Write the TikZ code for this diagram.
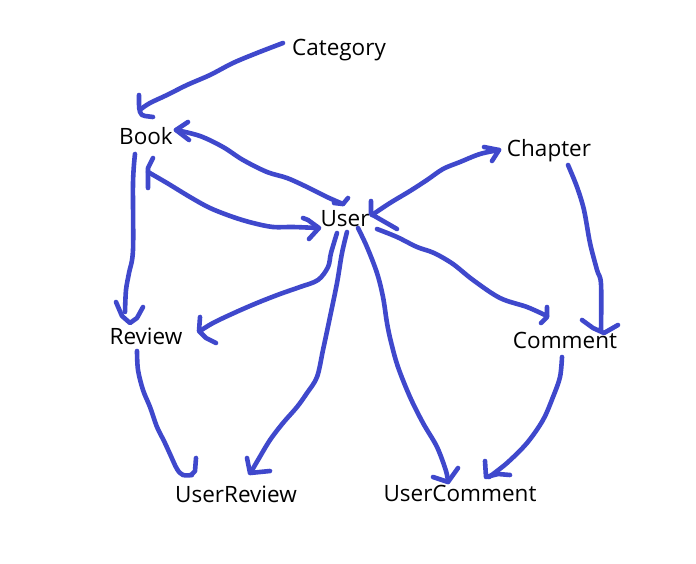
\documentclass[tikz,border=0pt]{standalone}
\usepackage{fontspec}
\setmainfont{Open Sans}
\definecolor{ink}{HTML}{3F48CC}
\begin{document}
\begin{tikzpicture}[x=1pt,y=-1pt,
  lbl/.style={anchor=base,inner sep=0pt,font=\fontsize{22.5}{26}\selectfont},
  ink/.style={draw=ink,line width=4.6pt,line cap=round,line join=round},
  sk/.style={ink,smooth,tension=0.55}]
\useasboundingbox (0,0) rectangle (696,564);
\fill[white] (0,0) rectangle (696,564);
% labels
\node[lbl] (Category) at (339,56) {Category};
\node[lbl] (Book) at (146,145) {Book};
\node[lbl] (Chapter) at (549,157) {Chapter};
\node[lbl] (User) at (345,227) {User};
\node[lbl] (Review) at (146,344) {Review};
\node[lbl] (Comment) at (565,348) {Comment};
\node[lbl] (UserReview) at (236,502) {UserReview};
\node[lbl] (UserComment) at (460,501) {UserComment};
% Category -> Book
\draw[sk] plot coordinates {(283,43) (257,53) (233,63) (210,75) (187,85) (167,95) (150,103) (141,109)};
\draw[ink] (139,95) -- (139,104) to[out=-90,in=180] (145,116) -- (153,117);
% Book <-> User (upper)
\draw[sk] plot coordinates {(176,130) (200,136) (223,147) (243,160) (267,172) (287,178) (307,187) (327,197) (343,204)};
\draw[ink] (188,122) -- (176,130) -- (189,140);
\draw[ink] (348,198) -- (343,204) -- (334,203);
% Book <-> User (lower)
\draw[sk] plot coordinates {(148,172) (167,183) (190,197) (210,208) (233,217) (253,223) (273,227) (293,227) (318,228)};
\draw[ink] (153,158) -- (148,168) -- (148,188);
\draw[ink] (303,218) -- (308,220) -- (319,228) -- (309,239);
% Book -> Review
\draw[sk] plot coordinates {(135,154) (133,183) (133,250) (129,273) (126,290) (125,312)};
\draw[ink] (116,302) -- (122,316) -- (130,323) -- (137,318) -- (143,307);
% User -> Review
\draw[sk] plot coordinates {(337,233) (331,253) (328,267) (318,280) (300,287) (280,294) (257,303) (234,313) (213,323) (200,331)};
\draw[ink] (200,317) -- (199,331) -- (206,338) -- (216,343);
% User -> UserReview
\draw[sk] plot coordinates {(347,232) (342,253) (337,283) (330,317) (323,350) (317,377) (307,393) (297,407) (283,423) (270,440) (258,460) (251,472)};
\draw[ink] (247,458) -- (250,473) -- (270,471);
% Review -> UserReview
\draw[sk] plot coordinates {(137,351) (138,370) (143,390) (150,407) (157,427) (164,441) (170,454) (177,469) (183,475) (192,475)};
\draw[ink] (196,458) -- (195,471) -- (191,475);
% User <-> Chapter
\draw[sk] plot coordinates {(372,215) (390,203) (410,191) (427,180) (443,169) (460,162) (480,154) (499,150)};
\draw[ink] (371,201) -- (371,214) -- (397,229);
\draw[ink] (484,147) -- (499,150) -- (492,161);
% User -> Comment
\draw[sk] plot coordinates {(377,229) (397,237) (417,247) (434,253) (453,264) (473,280) (500,298) (527,307) (547,316)};
\draw[ink] (547,307) -- (547,317) -- (541,323);
% Chapter -> Comment
\draw[sk] plot coordinates {(568,165) (577,187) (584,210) (590,243) (597,270) (601,284) (601,330)};
\draw[ink] (582,320) -- (593,328) -- (604,333) -- (618,325);
% User -> UserComment
\draw[sk] plot coordinates {(358,228) (367,247) (377,273) (383,297) (387,323) (391,342) (398,367) (410,397) (423,423) (437,447) (446,471) (448,482)};
\draw[ink] (433,477) -- (448,482) -- (458,468);
% Comment -> UserComment
\draw[sk] plot coordinates {(562,357) (560,377) (553,397) (543,420) (527,443) (507,463) (489,477)};
\draw[ink] (485,461) -- (486,477) -- (498,474) -- (510,475);
\end{tikzpicture}
\end{document}
